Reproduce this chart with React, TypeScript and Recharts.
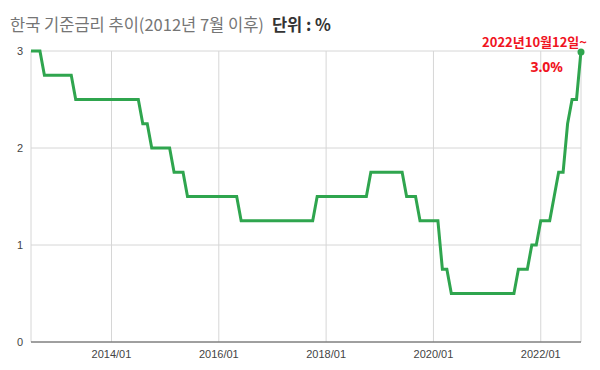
import { LineChart, Line, XAxis, YAxis, CartesianGrid } from 'recharts';

// 월별 기준금리 (%), 2012/07 ~ 2022/10
const RATE_2012 = [3.0, 3.0, 3.0, 2.75, 2.75, 2.75]; // Jul-Dec
const RATE_2013 = [2.75, 2.75, 2.75, 2.75, 2.5, 2.5, 2.5, 2.5, 2.5, 2.5, 2.5, 2.5];
const RATE_2014 = [2.5, 2.5, 2.5, 2.5, 2.5, 2.5, 2.5, 2.25, 2.25, 2.0, 2.0, 2.0];
const RATE_2015 = [2.0, 2.0, 1.75, 1.75, 1.75, 1.5, 1.5, 1.5, 1.5, 1.5, 1.5, 1.5];
const RATE_2016 = [1.5, 1.5, 1.5, 1.5, 1.5, 1.25, 1.25, 1.25, 1.25, 1.25, 1.25, 1.25];
const RATE_2017 = [1.25, 1.25, 1.25, 1.25, 1.25, 1.25, 1.25, 1.25, 1.25, 1.25, 1.5, 1.5];
const RATE_2018 = [1.5, 1.5, 1.5, 1.5, 1.5, 1.5, 1.5, 1.5, 1.5, 1.5, 1.75, 1.75];
const RATE_2019 = [1.75, 1.75, 1.75, 1.75, 1.75, 1.75, 1.5, 1.5, 1.5, 1.25, 1.25, 1.25];
const RATE_2020 = [1.25, 1.25, 0.75, 0.75, 0.5, 0.5, 0.5, 0.5, 0.5, 0.5, 0.5, 0.5];
const RATE_2021 = [0.5, 0.5, 0.5, 0.5, 0.5, 0.5, 0.5, 0.75, 0.75, 0.75, 1.0, 1.0];
const RATE_2022 = [1.25, 1.25, 1.25, 1.5, 1.75, 1.75, 2.25, 2.5, 2.5, 3.0]; // Jan-Oct

const RATES = [
  ...RATE_2012, ...RATE_2013, ...RATE_2014, ...RATE_2015, ...RATE_2016, ...RATE_2017,
  ...RATE_2018, ...RATE_2019, ...RATE_2020, ...RATE_2021, ...RATE_2022,
];

const X_TICK_LABELS = ['2014/01', '2016/01', '2018/01', '2020/01', '2022/01'];
const Y_TICKS = [0, 1, 2, 3];

const TITLE = '한국 기준금리 추이(2012년 7월 이후)';
const UNIT = '단위 : %';
const LAST_DATE = '2022년10월12일~';
const LAST_VALUE = '3.0%';

const GREEN = '#2fa54e';
const RED = '#f0141e';

// month labels: 2012/07 onward
const months = RATES.map((_, i) => {
  const m = 6 + i;
  const y = 2012 + Math.floor(m / 12);
  return `${y}/${String((m % 12) + 1).padStart(2, '0')}`;
});

const data = RATES.map((rate, i) => ({ i, month: months[i], rate }));
const xTicks = X_TICK_LABELS.map((l) => months.indexOf(l));
const lastIdx = data.length - 1;

const EndDot = (props: any) => {
  const { cx, cy, index } = props;
  if (index !== lastIdx) return <g key={`d${index}`} />;
  return (
    <g key={`d${index}`}>
      <circle cx={cx} cy={cy + 1} r={3.5} fill={GREEN} />
      <text
        x={cx + 6}
        y={cy - 4}
        textAnchor="end"
        fill={RED}
        fontSize={13}
        fontWeight={700}
        fontFamily="'Noto Sans CJK KR', 'Noto Sans', sans-serif"
      >
        {LAST_DATE}
      </text>
      <text
        x={cx - 18}
        y={cy + 21}
        textAnchor="end"
        fill={RED}
        fontSize={14}
        fontWeight={700}
        fontFamily="'Noto Sans', sans-serif"
      >
        {LAST_VALUE}
      </text>
    </g>
  );
};

export default function App() {
  return (
    <div style={{ position: 'absolute', left: 0, top: 0, width: 600, height: 370, background: '#fff' }}>
      <div
        style={{
          position: 'absolute', left: 10, top: 14, whiteSpace: 'nowrap',
          fontFamily: "'Noto Sans CJK KR', sans-serif", fontSize: 16.5, lineHeight: '20px',
        }}
      >
        <span style={{ color: '#757575' }}>{TITLE}</span>
        <span style={{ color: '#333', fontWeight: 700, marginLeft: 8 }}>{UNIT}</span>
      </div>
      <LineChart
        width={600}
        height={370}
        data={data}
        margin={{ top: 51, right: 19, left: 0, bottom: 0 }}
      >
        <CartesianGrid stroke="#d6d6d6" />
        <XAxis
          dataKey="i"
          type="number"
          domain={[0, lastIdx]}
          ticks={xTicks}
          tickFormatter={(v) => months[v]}
          height={28}
          stroke="#555"
          tickLine={false}
          tick={{ fontSize: 11, fill: '#444', fontFamily: "'Liberation Sans', Arial, sans-serif" }}
        />
        <YAxis
          type="number"
          domain={[0, 3]}
          ticks={Y_TICKS}
          width={31}
          axisLine={false}
          tickLine={false}
          tick={{ fontSize: 11, fill: '#444', fontFamily: "'Liberation Sans', Arial, sans-serif" }}
        />
        <Line
          type="linear"
          dataKey="rate"
          stroke={GREEN}
          strokeWidth={3}
          dot={EndDot}
          activeDot={false}
          isAnimationActive={false}
        />
      </LineChart>
    </div>
  );
}
